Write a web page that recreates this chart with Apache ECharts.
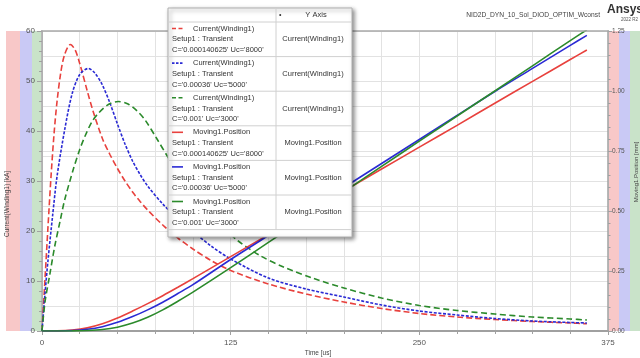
<!DOCTYPE html>
<html><head><meta charset="utf-8">
<script src="https://cdn.jsdelivr.net/npm/echarts/dist/echarts.min.js"></script>
<style>html,body{margin:0;padding:0;background:#fff}#c{width:640px;height:358px}</style>
</head><body><div id="c"></div>
<script>
// ---- data ----
const xTicks = [0, 125, 250, 375];
const leftTicks = [0, 10, 20, 30, 40, 50, 60];
const rightTicks = [0, 0.25, 0.5, 0.75, 1.0, 1.25];

const tRedI = [0,2,4,6,8,10,12.5,15,18.8,22,25,30,34,40,45,50,55,60,65,70,80,90,100,112,125,150,175,200,225,250,275,300,325,350,361];
const redI  = [0,10.5,21,31,39.5,46,51.8,55.3,57.3,56.2,53.5,48,43.8,38.5,35.3,32.5,30.0,27.8,25.9,24.2,21.2,18.6,16.4,14.1,12.1,9.4,7.4,5.8,4.5,3.5,2.8,2.3,1.9,1.6,1.45];

const tBlueI = [0,2,4,7,10,15,20,25,30.6,35,40,45,50,55,60,65,70,80,90,100,112,125,150,175,200,225,250,275,300,325,350,361];
const blueI  = [0,7.5,14.2,23,31,40.2,47.5,51.3,52.5,51.6,49.2,45.6,41.4,37.4,34.0,31.3,29.0,25.4,22.4,19.9,17.0,14.4,10.6,8.4,6.8,5.2,4.0,3.2,2.5,2.0,1.7,1.6];

const tGreenI = [0,2,5,8.4,12,15,20.6,25,28.4,33,37.2,44,50.5,57,63,68.3,76,83.8,90,100,110,120,130,145,160,180,200,225,250,275,300,325,350,361];
const greenI  = [0,5.8,11,16.9,22,26.2,32.2,36.3,38.9,41.8,43.5,45.3,45.9,45.4,44,42.2,38.5,34.6,31.8,27.7,24.0,20.7,18.0,15.0,12.8,10.5,8.6,6.6,5.1,4.1,3.4,2.8,2.4,2.2];

const tPos   = [0,10,20,30,40,50,60,70,80,90,100,125,150,175,200,225,250,275,300,325,350,361];
const redP   = [0,0.0005,0.004,0.013,0.03,0.054,0.083,0.114,0.147,0.182,0.218,0.31,0.401,0.492,0.583,0.675,0.766,0.857,0.949,1.04,1.131,1.171];
const blueP  = [0,0.0002,0.002,0.007,0.018,0.036,0.06,0.088,0.12,0.156,0.193,0.298,0.398,0.498,0.598,0.698,0.798,0.898,0.998,1.094,1.19,1.232];
const greenP = [0,0,0.0005,0.002,0.006,0.016,0.033,0.057,0.088,0.124,0.162,0.264,0.369,0.474,0.58,0.686,0.791,0.896,1.0,1.105,1.21,1.255];

const legendNames  = ['Current(Winding1)','Current(Winding1)','Current(Winding1)','Moving1.Position','Moving1.Position','Moving1.Position'];
const legendSetup  = ['Setup1 : Transient','Setup1 : Transient','Setup1 : Transient','Setup1 : Transient','Setup1 : Transient','Setup1 : Transient'];
const legendParams = ["C='0.000140625' Uc='8000'","C='0.00036' Uc='5000'","C='0.001' Uc='3000'","C='0.000140625' Uc='8000'","C='0.00036' Uc='5000'","C='0.001' Uc='3000'"];
const legendYAxis  = ['Current(Winding1)','Current(Winding1)','Current(Winding1)','Moving1.Position','Moving1.Position','Moving1.Position'];

const titleText = 'NID2D_DYN_10_Sol_DIOD_OPTIM_Wconst';
const xName = 'Time [us]';
const yLeftName = 'Current(Winding1) [kA]';
const yRightName = 'Moving1.Position [mm]';

// ---- styling ----
const RED = '#e8413d', BLUE = '#2a2ad4', GREEN = '#2b8a2b';
const colors = [RED, BLUE, GREEN, RED, BLUE, GREEN];
const dashes = [[6,3],[3,1.6],[6,3.5],'solid','solid','solid'];
const FONT = 'Liberation Sans, Arial, sans-serif';

function pairs(t, v){ return t.map((x,i)=>[x, v[i]]); }

const seriesDefs = [
  {t:tRedI, v:redI, y:0}, {t:tBlueI, v:blueI, y:0}, {t:tGreenI, v:greenI, y:0},
  {t:tPos, v:redP, y:1}, {t:tPos, v:blueP, y:1}, {t:tPos, v:greenP, y:1}
];

const series = seriesDefs.map((d,i)=>({
  type:'line', yAxisIndex:d.y, data:pairs(d.t,d.v), showSymbol:false, smooth:0.3,
  lineStyle:{color:colors[i], width:1.6, type:dashes[i]}, z:3, animation:false
}));

const chart = echarts.init(document.getElementById('c'), null, {renderer:'canvas'});

// legend graphics
const G = [];
const bx=168, by=8, bw=184, bh=229, colX=276, headH=14, rowH=34.6;
G.push({type:'rect', shape:{x:bx,y:by,width:bw,height:bh}, z:100,
  style:{fill:'#fff', stroke:'#b0b0b0', lineWidth:1, shadowBlur:4, shadowColor:'rgba(0,0,0,0.45)', shadowOffsetX:2, shadowOffsetY:2}});
G.push({type:'line', shape:{x1:colX,y1:by,x2:colX,y2:by+headH+rowH*6}, z:101, style:{stroke:'#d0d0d0', lineWidth:1}});
for (let i=0;i<=6;i++){
  const yy = by+headH+rowH*i;
  G.push({type:'line', shape:{x1:bx,y1:yy,x2:bx+bw,y2:yy}, z:101, style:{stroke:'#d0d0d0', lineWidth:1}});
}
G.push({type:'text', x:279, y:by+headH/2, z:102, style:{text:'•', fill:'#333', font:'7px '+FONT, verticalAlign:'middle'}});
G.push({type:'text', x:316, y:by+headH/2, z:102, style:{text:'Y Axis', fill:'#333', font:'7.5px '+FONT, align:'center', verticalAlign:'middle'}});
for (let i=0;i<6;i++){
  const top = by+headH+rowH*i;
  G.push({type:'line', shape:{x1:172,y1:top+6.5,x2:183,y2:top+6.5}, z:102,
    style:{stroke:colors[i], lineWidth:1.6, lineDash: dashes[i]==='solid'? null : (i===1?[2.5,1.5]:[4,2.5])}});
  G.push({type:'text', x:193, y:top+6.5, z:102, style:{text:legendNames[i], fill:'#333', font:'7.5px '+FONT, verticalAlign:'middle'}});
  G.push({type:'text', x:172, y:top+17.3, z:102, style:{text:legendSetup[i], fill:'#333', font:'7.5px '+FONT, verticalAlign:'middle'}});
  G.push({type:'text', x:172, y:top+28, z:102, style:{text:legendParams[i], fill:'#333', font:'7.5px '+FONT, verticalAlign:'middle'}});
  G.push({type:'text', x:313, y:top+17.3, z:102, style:{text:legendYAxis[i], fill:'#333', font:'7.5px '+FONT, align:'center', verticalAlign:'middle'}});
}
// coloured side bands
const bandTop=31, bandBot=331;
[[6,20,'#f8c8c8'],[20,32,'#c9c9f5'],[32,41,'#c9e3c9'],[609,619,'#f8c8c8'],[619,630,'#c9c9f5'],[630,640,'#c9e3c9']].forEach(b=>{
  G.push({type:'rect', shape:{x:b[0],y:bandTop,width:b[1]-b[0],height:bandBot-bandTop}, z:-10, silent:true, style:{fill:b[2]}});
});
// titles
G.push({type:'text', x:600, y:15, z:5, style:{text:titleText, fill:'#444', font:'6.7px '+FONT, align:'right', verticalAlign:'middle'}});
G.push({type:'text', x:607, y:10, z:5, style:{text:'Ansys', fill:'#333', font:'bold 12px '+FONT, verticalAlign:'middle'}});
G.push({type:'text', x:621, y:19.5, z:5, style:{text:'2022 R2', fill:'#555', font:'4.5px '+FONT, verticalAlign:'middle'}});
// axis names
G.push({type:'text', x:7, y:204, rotation:Math.PI/2, z:5, style:{text:yLeftName, fill:'#444', font:'6.5px '+FONT, align:'center', verticalAlign:'middle'}});
G.push({type:'text', x:636, y:172, rotation:Math.PI/2, z:5, style:{text:yRightName, fill:'#444', font:'6px '+FONT, align:'center', verticalAlign:'middle'}});
G.push({type:'text', x:318, y:353, z:5, style:{text:xName, fill:'#444', font:'6.5px '+FONT, align:'center', verticalAlign:'middle'}});
// top border
G.push({type:'line', shape:{x1:41,y1:31,x2:609,y2:31}, z:4, style:{stroke:'#a8a8a8', lineWidth:1.5}});

const GRID = '#e2e2e2';
chart.setOption({
  animation:false,
  backgroundColor:'#fff',
  grid:{left:42, right:32, top:31, bottom:27},
  xAxis:{type:'value', min:xTicks[0], max:xTicks[xTicks.length-1], interval:xTicks[1]-xTicks[0],
    axisLine:{show:true, onZero:false, lineStyle:{color:'#a0a0a0', width:2}},
    axisTick:{show:true, length:4, lineStyle:{color:'#a0a0a0'}},
    minorTick:{show:true, splitNumber:5, length:3, lineStyle:{color:'#a0a0a0'}},
    splitLine:{show:true, lineStyle:{color:GRID, width:1}},
    minorSplitLine:{show:true, lineStyle:{color:GRID, width:1}},
    axisLabel:{fontSize:8, color:'#555', fontFamily:FONT, margin:8}
  },
  yAxis:[
    {type:'value', position:'left', min:leftTicks[0], max:leftTicks[leftTicks.length-1], interval:leftTicks[1]-leftTicks[0],
      axisLine:{show:true, onZero:false, lineStyle:{color:'#a0a0a0', width:1.5}},
      axisTick:{show:true, length:5, lineStyle:{color:'#a0a0a0'}},
      minorTick:{show:true, splitNumber:5, length:3, lineStyle:{color:'#a0a0a0'}},
      splitLine:{show:false},
      axisLabel:{fontSize:8, color:'#555', fontFamily:FONT, margin:7}
    },
    {type:'value', position:'right', min:rightTicks[0], max:rightTicks[rightTicks.length-1], interval:rightTicks[1]-rightTicks[0],
      axisLine:{show:true, onZero:false, lineStyle:{color:'#a0a0a0', width:1.5}},
      axisTick:{show:true, length:4, lineStyle:{color:'#a0a0a0'}},
      minorTick:{show:true, splitNumber:5, length:2.5, lineStyle:{color:'#a0a0a0'}},
      splitLine:{show:true, lineStyle:{color:GRID, width:1}},
      axisLabel:{fontSize:6.5, color:'#555', fontFamily:FONT, margin:4, formatter:v=>v.toFixed(2)}
    },
    {type:'value', position:'left', min:leftTicks[0], max:leftTicks[leftTicks.length-1], interval:5,
      axisLine:{show:false}, axisTick:{show:false}, axisLabel:{show:false},
      splitLine:{show:true, lineStyle:{color:GRID, width:1}}
    }
  ],
  series: series,
  graphic: G
});
</script>
</body></html>
